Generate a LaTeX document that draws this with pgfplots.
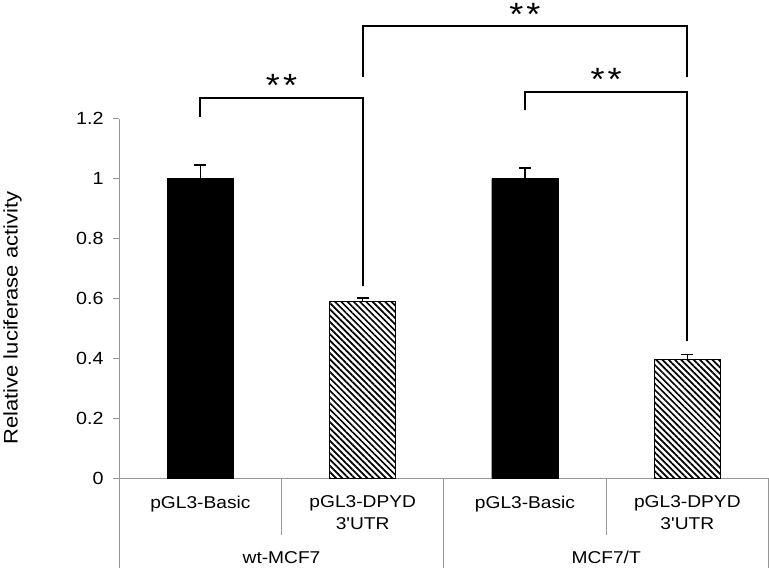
\documentclass[border=0pt]{standalone}
\usepackage{fontspec}
\setmainfont{Liberation Sans}[FakeStretch=1.12]
\newfontfamily\ap{Liberation Sans}[FakeStretch=1.12]
\usepackage{pgfplots}
\pgfplotsset{compat=1.18}
\usetikzlibrary{patterns.meta}
\definecolor{axgray}{RGB}{150,150,150}

\begin{document}
\begin{tikzpicture}
\begin{axis}[
    scale only axis,
    width=645pt, height=357pt,
    xmin=-0.5, xmax=3.5, ymin=0, ymax=1.2,
    axis x line*=bottom, axis y line*=left,
    axis line style={axgray, line width=1pt},
    ytick={0,0.2,0.4,0.6,0.8,1,1.2},
    y tick style={axgray, line width=1pt},
    tick align=outside, major tick length=6pt,
    xtick={0,1,2,3},
    xticklabels={pGL3-Basic, {pGL3-DPYD\\3{\ap'}UTR}, pGL3-Basic, {pGL3-DPYD\\3{\ap'}UTR}},
    x tick style={draw=none},
    xticklabel style={align=center, anchor=north, yshift=-8pt, font=\fontsize{17}{22}\selectfont},
    yticklabel style={xshift=-6pt, font=\fontsize{17.5}{20}\selectfont},
    /pgf/number format/assume math mode=true,
    ylabel={Relative luciferase activity},
    every axis y label/.style={at={([xshift=-106pt]axis description cs:0,0.445)}, rotate=90, anchor=center, font=\fontsize{19.5}{22}\selectfont},
    clip=false,
]
% black bars
\addplot[ybar, bar width=0.41, bar shift=0pt, fill=black, draw=black,
    error bars/.cd, y dir=plus, y explicit,
    error bar style={black, line width=1.2pt},
    error mark options={rotate=90, mark size=6pt, black, line width=1.2pt}]
    coordinates {(0,1) +- (0,0.045) (2,1) +- (0,0.035)};
% hatched bars
\addplot[ybar, bar width=0.41, bar shift=0pt, draw=black, line width=1pt,
    pattern={Lines[angle=-45, distance=4.4pt, line width=1.7pt]}, pattern color=black,
    error bars/.cd, y dir=plus, y explicit,
    error bar style={black, line width=1.2pt},
    error mark options={rotate=90, mark size=6pt, black, line width=1.2pt}]
    coordinates {(1,0.588) +- (0,0.013) (3,0.397) +- (0,0.016)};

% category separators
\draw[axgray, line width=1pt] (0.5,0) -- ([yshift=-57pt]0.5,0);
\draw[axgray, line width=1pt] (2.5,0) -- ([yshift=-57pt]2.5,0);
\draw[axgray, line width=1pt] (-0.5,0) -- ([yshift=-89pt]-0.5,0);
\draw[axgray, line width=1pt] (1.5,0) -- ([yshift=-89pt]1.5,0);
\draw[axgray, line width=1pt] (3.5,0) -- ([yshift=-89pt]3.5,0);
\node[font=\fontsize{17}{20}\selectfont] at ([yshift=-79pt]0.5,0) {wt-MCF7};
\node[font=\fontsize{17}{20}\selectfont] at ([yshift=-79pt]2.5,0) {MCF7/T};

% significance brackets
\draw[line width=2pt] (0,1.207) -- (0,1.27) -- (1,1.27) -- (1,0.64);
\draw[line width=2pt] (2,1.23) -- (2,1.29) -- (3,1.29) -- (3,0.457);
\draw[line width=2pt] (1,1.34) -- (1,1.51) -- (3,1.51) -- (3,1.34);
\node[font=\fontsize{32}{34}\selectfont] at (0.5,1.31) {*\hspace{3pt}*};
\node[font=\fontsize{32}{34}\selectfont] at (2.5,1.33) {*\hspace{3pt}*};
\node[font=\fontsize{32}{34}\selectfont] at (2.0,1.548) {*\hspace{3pt}*};
\end{axis}
\end{tikzpicture}
\end{document}
